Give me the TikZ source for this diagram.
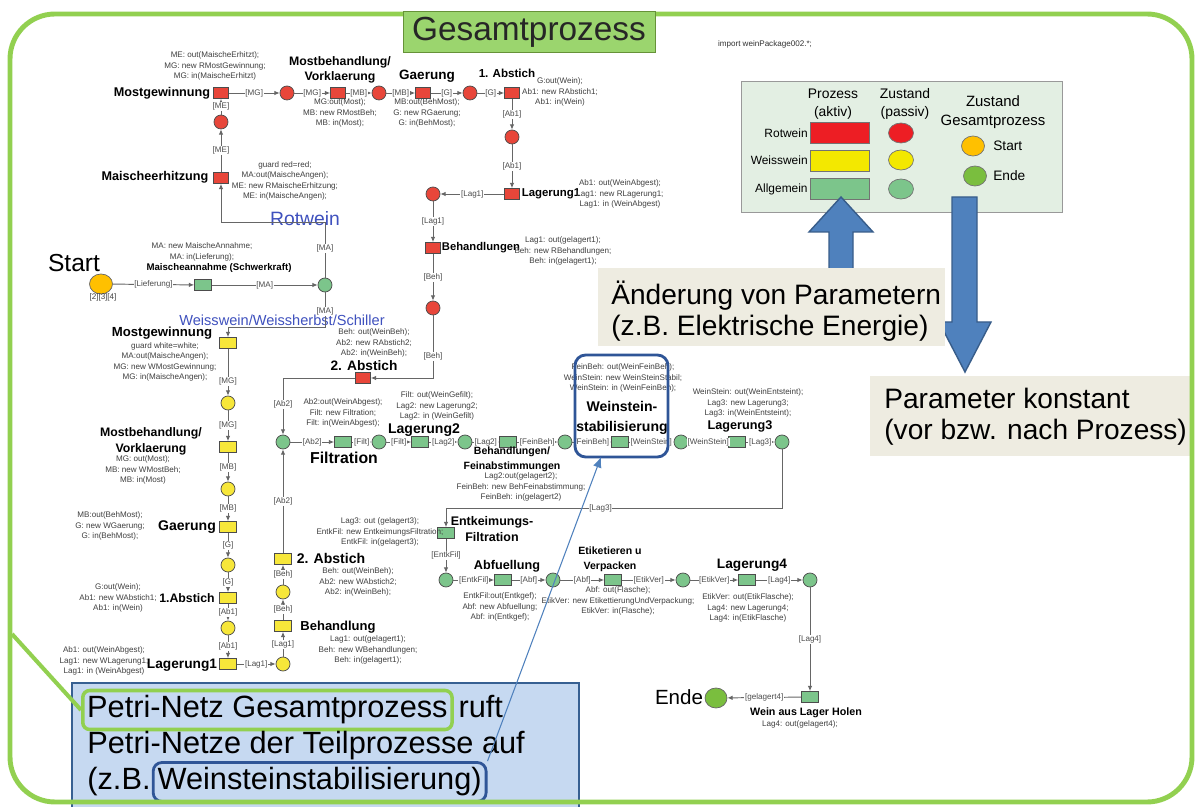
\documentclass[tikz,border=0pt]{standalone}
\usepackage{fontspec}
\setmainfont{Liberation Sans}
\usepackage{tikz}
\usetikzlibrary{arrows.meta,positioning,calc,shapes.geometric}

\definecolor{rotw}{RGB}{232,70,58}
\definecolor{weissw}{RGB}{247,231,58}
\definecolor{allg}{RGB}{124,197,139}
\definecolor{legrot}{RGB}{237,30,36}
\definecolor{leggelb}{RGB}{243,232,0}
\definecolor{startc}{RGB}{255,192,0}
\definecolor{endec}{RGB}{122,190,62}
\definecolor{rahmen}{RGB}{146,208,80}
\definecolor{titelg}{RGB}{155,213,110}
\definecolor{legbg}{RGB}{227,239,227}
\definecolor{infobg}{RGB}{238,236,225}
\definecolor{pfeilb}{RGB}{79,129,189}
\definecolor{pfeilr}{RGB}{56,93,138}
\definecolor{boxbg}{RGB}{198,217,241}
\definecolor{boxrand}{RGB}{55,96,146}
\definecolor{hlblau}{RGB}{47,85,151}
\definecolor{schrift}{RGB}{63,81,190}

\newcommand{\anfont}{\fontsize{4.6}{5.95}\selectfont}
\newcommand{\labfont}[2]{\fontsize{#1}{#2}\selectfont\bfseries}
\newcommand{\pnarc}[3]
{
	\draw[flow] (#1) -- node[lbl]{[#3]} (#2)
}

\begin{document}
\begin{tikzpicture}[x=0.02cm, y=-0.02cm,
			trans/.style={rectangle, draw=black!70, line width=0.4pt,
				minimum width=0.3cm, minimum height=0.22cm, inner sep=0},
			place/.style={circle, draw=black!70, line width=0.4pt,
				minimum size=0.28cm, inner sep=0},
			trR/.style={trans, fill=rotw},
			plR/.style={place, fill=rotw},
			trY/.style={trans, fill=weissw, minimum width=0.34cm},
			plY/.style={place, fill=weissw},
			trG/.style={trans, fill=allg, minimum width=0.34cm},
			plG/.style={place, fill=allg},
			flow/.style={draw=black!60, line width=0.55pt, -{Latex[length=3pt,width=2.6pt]}},
			lbl/.style={fill=white, inner sep=0.4pt, font=\anfont, text=black!70},
			anno/.style={align=center, inner sep=0, font=\anfont, text=black!75},
			tname/.style={align=center, inner sep=0},
			lgt/.style={align=center, inner sep=0, font=\fontsize{7.9}{10.2}\selectfont},
			legbox/.style={draw=black!55, minimum width=1.18cm, minimum height=0.42cm, inner sep=0},
			legell/.style={ellipse, draw=black!55, minimum width=0.5cm, minimum height=0.4cm, inner sep=0},
			infotext/.style={anchor=west, align=left, inner sep=0, font=\fontsize{16}{17.6}\selectfont},
			ctext/.style={inner sep=0, font=\fontsize{17.5}{20}\selectfont, text height=12.6pt, text depth=3.6pt}]
			
			\fill[white] (0,0) rectangle (1198,807);
			\useasboundingbox (0,0) rectangle (1198,807);
			
			% Legende
			\draw[draw=black!40, fill=legbg] (741,81) rectangle (1062,212);
			\node[lgt] at (833,104) (lgP){Prozess\\(aktiv)};
			\node[lgt] at (905,104) (lgZ){Zustand\\(passiv)};
			\node[lgt, font=\fontsize{8.5}{10.8}\selectfont] at (993,112) (lgG){Zustand\\Gesamtprozess};
			\node[anchor=east, inner sep=0, font=\fontsize{6.8}{8}\selectfont] at (808,133) (lgR){Rotwein};
			\node[anchor=east, inner sep=0, font=\fontsize{6.8}{8}\selectfont] at (808,160) (lgW){Weisswein};
			\node[anchor=east, inner sep=0, font=\fontsize{6.8}{8}\selectfont] at (808,189) (lgA){Allgemein};
			\node[legbox, fill=legrot] at (840,133) (lgRb){};
			\node[legbox, fill=leggelb] at (840,161) (lgWb){};
			\node[legbox, fill=allg] at (840,189) (lgAb){};
			\node[legell, fill=legrot] at (901,133) (lgRc){};
			\node[legell, fill=leggelb] at (901,160) (lgWc){};
			\node[legell, fill=allg] at (901,189) (lgAc){};
			\node[legell, fill=startc, minimum width=0.46cm] at (973,146) (lgS){};
			\node[anchor=west, inner sep=0, font=\fontsize{7.8}{8}\selectfont] at (993,146) (lgSt){Start};
			\node[legell, fill=endec, minimum width=0.46cm] at (975,176) (lgE){};
			\node[anchor=west, inner sep=0, font=\fontsize{7.8}{8}\selectfont] at (993,176) (lgEt){Ende};
			
			\node[anno, text=black!80] at (765,44) (imp){import weinPackage002.*;};
			
			% Pfeile und Hinweise
			\draw[fill=pfeilb, draw=pfeilr, line width=0.8pt] (829,270) -- (829,232) -- (809,232) -- (841,197)
				-- (873,232) -- (853,232) -- (853,270) -- cycle;
			\draw[fill=pfeilb, draw=pfeilr, line width=0.8pt] (952,197) -- (977,197) -- (977,322) -- (991,322)
				-- (965,372) -- (939,322) -- (952,322) -- cycle;
			\fill[infobg] (598,268) rectangle (945,346);
			\node[infotext] at (611,311) (chg){Änderung von Parametern\\(z.B. Elektrische Energie)};
			\fill[infobg] (870,376) rectangle (1192,456);
			\node[infotext] at (884,417) (konst){Parameter konstant\\(vor bzw. nach Prozess)};
			
			% Rotwein
			\node[trR] at (221, 93) (MGr){};
			\node[plR] at (287, 93) (PMGr){};
			\node[trR] at (338, 93) (MBr){};
			\node[plR] at (379, 93) (PMBr){};
			\node[trR] at (423, 93) (Gr){};
			\node[plR] at (470, 93) (PGr){};
			\node[trR] at (512, 93) (Ab1r){};
			\node[plR] at (512, 137) (PAb1r){};
			\node[trR] at (512, 194) (Lag1r){};
			\node[plR] at (433, 194) (PLag1r){};
			\node[trR] at (433, 248) (Behr){};
			\node[plR] at (433, 308) (PBehr){};
			\node[trR] at (363, 378) (Ab2r){};
			\node[trR] at (221, 178) (MEr){};
			\node[plR] at (221, 122) (PMEr){};
			
			\node[tname, font=\labfont{7.2}{8.6}] at (162, 93) (nMGr){Mostgewinnung};
			\node[tname, font=\labfont{7.2}{8.6}] at (155, 177) (nMEr){Maischeerhitzung};
			\node[tname, font=\labfont{7}{8.5}] at (340, 70) (nMBr){Mostbehandlung/\\Vorklaerung};
			\node[tname, font=\labfont{7.7}{8.6}] at (427, 76) (nGr){Gaerung};
			\node[tname, font=\labfont{6.6}{8}] at (507, 73) (nAb1r){1. Abstich};
			\node[tname, font=\labfont{6.5}{8}] at (551, 194) (nLag1r){Lagerung1};
			\node[tname, font=\labfont{6.4}{8}] at (481, 248) (nBehr){Behandlungen};
			\node[tname, font=\labfont{7.8}{8.6}] at (364, 366) (nAb2r){2. Abstich};
			
			\node[anno] at (215, 66) (aMGr){ME: out(MaischeErhitzt);\\MG: new RMostGewinnung;\\MG: in(MaischeErhitzt)};
			\node[anno] at (285, 181) (aMEr){guard red=red;\\MA:out(MaischeAngen);\\ME: new RMaischeErhitzung;\\ME: in(MaischeAngen);};
			\node[anno] at (340, 113) (aMBr){MG:out(Most);\\MB: new RMostBeh;\\MB: in(Most);};
			\node[anno] at (427, 113) (aGr){MB:out(BehMost);\\G: new RGaerung;\\G: in(BehMost);};
			\node[anno] at (560, 92) (aAb1r){G:out(Wein);\\Ab1: new RAbstich1;\\Ab1: in(Wein)};
			\node[anno] at (620, 194) (aLag1r){Ab1: out(WeinAbgest);\\Lag1: new RLagerung1;\\Lag1: in (WeinAbgest)};
			\node[anno] at (563, 251) (aBehr){Lag1: out(gelagert1);\\Beh: new RBehandlungen;\\Beh: in(gelagert1);};
			\node[anno] at (374, 343) (aAb2r){Beh: out(WeinBeh);\\Ab2: new RAbstich2;\\Ab2: in(WeinBeh);};
			
			\pnarc{MEr}{PMEr}{ME};
			\pnarc{PMEr}{MGr}{ME};
			\pnarc{MGr}{PMGr}{MG};
			\pnarc{PMGr}{MBr}{MG};
			\pnarc{MBr}{PMBr}{MB};
			\pnarc{PMBr}{Gr}{MB};
			\pnarc{Gr}{PGr}{G};
			\pnarc{PGr}{Ab1r}{G};
			\pnarc{Ab1r}{PAb1r}{Ab1};
			\pnarc{PAb1r}{Lag1r}{Ab1};
			\pnarc{Lag1r}{PLag1r}{Lag1};
			\pnarc{PLag1r}{Behr}{Lag1};
			\pnarc{Behr}{PBehr}{Beh};
			\draw[flow] (PBehr) |- node[lbl, pos=0.33]{[Beh]} (Ab2r);
			
			% Annahme
			\node[ellipse, draw=black!60, fill=startc, minimum width=0.46cm, minimum height=0.4cm, inner sep=0] at (101, 284) (St){};
			\node[inner sep=0, font=\fontsize{14}{14}\selectfont] at (74, 263) (StL){Start};
			\node[anno] at (103, 297) (StM){[2][3][4]};
			\node[trG] at (203, 285) (MA){};
			\node[plG] at (325, 285) (PMA){};
			\node[tname, font=\labfont{5.5}{6.5}] at (219, 268) (nMA){Maischeannahme (Schwerkraft)};
			\node[anno] at (202, 252) (aMA){MA: new MaischeAnnahme;\\MA: in(Lieferung);};
			\node[inner sep=0, text=schrift, font=\fontsize{11}{11}\selectfont] at (305, 219) (Rot){Rotwein};
			\node[inner sep=0, text=schrift, font=\fontsize{8.3}{8.3}\selectfont] at (282, 320) (Wei){Weisswein/Weissherbst/Schiller};
			\coordinate (cRot) at (221, 222);
			\coordinate (cWei) at (228, 327);
			
			% Weisswein
			\node[trY] at (228, 343) (MGw){};
			\node[plY] at (228, 403) (PMGw){};
			\node[trY] at (228, 447) (MBw){};
			\node[plY] at (228, 489) (PMBw){};
			\node[trY] at (228, 527) (Gw){};
			\node[plY] at (228, 565) (PGw){};
			\node[trY] at (228, 598) (Ab1w){};
			\node[plY] at (228, 628) (PAb1w){};
			\node[trY] at (228, 664) (Lag1w){};
			\node[plY] at (283, 664) (PLag1w){};
			\node[trY] at (283, 626) (Behw){};
			\node[plY] at (283, 592) (PBehw){};
			\node[trY] at (283, 559) (Ab2w){};
			
			\node[tname, font=\labfont{7.5}{8.6}] at (162, 333) (nMGw){Mostgewinnung};
			\node[tname, font=\labfont{7}{9}] at (151, 441) (nMBw){Mostbehandlung/\\Vorklaerung};
			\node[tname, font=\labfont{8}{9}] at (187, 527) (nGw){Gaerung};
			\node[tname, font=\labfont{7}{8}] at (187, 598) (nAb1w){1.Abstich};
			\node[tname, font=\labfont{7.8}{9}] at (182, 665) (nLag1w){Lagerung1};
			\node[tname, font=\labfont{7.4}{9}] at (338, 627) (nBehw){Behandlung};
			\node[tname, font=\labfont{8}{9}] at (331, 558) (nAb2w){2. Abstich};
			
			\node[anno] at (165, 362) (aMGw){guard white=white;\\MA:out(MaischeAngen);\\MG: new WMostGewinnung;\\MG: in(MaischeAngen);};
			\node[anno] at (143, 470) (aMBw){MG: out(Most);\\MB: new WMostBeh;\\MB: in(Most)};
			\node[anno] at (110, 526) (aGw){MB:out(BehMost);\\G: new WGaerung;\\G: in(BehMost);};
			\node[anno] at (118, 598) (aAb1w){G:out(Wein);\\Ab1: new WAbstich1;\\Ab1: in(Wein)};
			\node[anno] at (104, 661) (aLag1w){Ab1: out(WeinAbgest);\\Lag1: new WLagerung1;\\Lag1: in (WeinAbgest)};
			\node[anno] at (368, 650) (aBehw){Lag1: out(gelagert1);\\Beh: new WBehandlungen;\\Beh: in(gelagert1);};
			\node[anno] at (358, 582) (aAb2w){Beh: out(WeinBeh);\\Ab2: new WAbstich2;\\Ab2: in(WeinBeh);};
			
			\pnarc{St}{MA}{Lieferung};
			\pnarc{MA}{PMA}{MA};
			\draw[flow] (PMA) |- node[lbl, pos=0.26]{[MA]} (cRot) -- (MEr);
			\draw[flow] (PMA) |- node[lbl, pos=0.27]{[MA]} (cWei) -- (MGw);
			
			\draw[flow] (MGw) -- node[lbl, pos=0.7]{[MG]} (PMGw);
			\pnarc{PMGw}{MBw}{MG};
			\pnarc{MBw}{PMBw}{MB};
			\pnarc{PMBw}{Gw}{MB};
			\pnarc{Gw}{PGw}{G};
			\pnarc{PGw}{Ab1w}{G};
			\pnarc{Ab1w}{PAb1w}{Ab1};
			\pnarc{PAb1w}{Lag1w}{Ab1};
			\pnarc{Lag1w}{PLag1w}{Lag1};
			\pnarc{PLag1w}{Behw}{Lag1};
			\pnarc{Behw}{PBehw}{Beh};
			\pnarc{PBehw}{Ab2w}{Beh};
			
			% Allgemein
			\node[plG] at (283, 442) (PAb2){};
			\node[trG] at (343, 442) (Filt){};
			\node[plG] at (379, 442) (PFilt){};
			\node[trG] at (420, 442) (Lag2){};
			\node[plG] at (465, 442) (PLag2){};
			\node[trG] at (508, 442) (Fein){};
			\node[plG] at (565, 442) (PFein){};
			\node[trG] at (620, 442) (Wst){};
			\node[plG] at (681, 442) (PWst){};
			\node[trG] at (737, 442) (Lag3){};
			\node[plG] at (782, 442) (PLag3){};
			\coordinate (cLag3) at (446, 508);
			\node[trG] at (446, 533) (Entk){};
			\node[plG] at (446, 580) (PEntk){};
			\node[trG] at (503, 580) (Abf){};
			\node[plG] at (553, 580) (PAbf){};
			\node[trG] at (613, 580) (Etik){};
			\node[plG] at (683, 580) (PEtik){};
			\node[trG] at (747, 580) (Lag4){};
			\node[plG] at (810, 580) (PLag4){};
			\node[trG] at (810, 697) (Hol){};
			\node[ellipse, draw=black!60, fill=endec, minimum width=0.44cm, minimum height=0.4cm, inner sep=0] at (716, 698) (Ende){};
			\node[inner sep=0, font=\fontsize{11.7}{12}\selectfont] at (679, 697) (EndeL){Ende};
			
			\node[tname, font=\labfont{9}{10}] at (344, 458) (nFilt){Filtration};
			\node[tname, font=\labfont{8}{9}] at (424, 430) (nLag2){Lagerung2};
			\node[tname, font=\labfont{6}{8.5}] at (512, 459) (nFein){Behandlungen/\\Feinabstimmungen};
			\node[tname, font=\labfont{8}{11.3}] at (622, 418) (nWst){Weinstein-\\stabilisierung};
			\node[tname, font=\labfont{7.2}{8.5}] at (740, 426) (nLag3){Lagerung3};
			\node[tname, font=\labfont{7.1}{9}] at (492, 529) (nEntk){Entkeimungs-\\Filtration};
			\node[tname, font=\labfont{7.2}{8.5}] at (507, 566) (nAbf){Abfuellung};
			\node[tname, font=\labfont{6}{8.5}] at (610, 559) (nEtik){Etiketieren u\\Verpacken};
			\node[tname, font=\labfont{7.8}{9}] at (752, 565) (nLag4){Lagerung4};
			\node[tname, font=\labfont{6.1}{7}] at (806, 713) (nHol){Wein aus Lager Holen};
			
			\node[anno] at (343, 413) (aFilt){Ab2:out(WeinAbgest);\\Filt: new Filtration;\\Filt: in(WeinAbgest);};
			\node[anno] at (437, 406) (aLag2){Filt: out(WeinGefilt);\\Lag2: new Lagerung2;\\Lag2: in (WeinGefilt)};
			\node[anno] at (521, 487) (aFein){Lag2:out(gelagert2);\\FeinBeh: new BehFeinabstimmung;\\FeinBeh: in(gelagert2)};
			\node[anno] at (623, 378) (aWst){FeinBeh: out(WeinFeinBeh);\\WeinStein: new WeinSteinStabil;\\WeinStein: in (WeinFeinBeh);};
			\node[anno] at (748, 403) (aLag3){WeinStein: out(WeinEntsteint);\\Lag3: new Lagerung3;\\Lag3: in(WeinEntsteint);};
			\node[anno] at (380, 532) (aEntk){Lag3: out (gelagert3);\\EntkFil: new EntkeimungsFiltration;\\EntkFil: in(gelagert3);};
			\node[anno] at (500, 607) (aAbf){EntkFil:out(Entkgef);\\Abf: new Abfuellung;\\Abf: in(Entkgef);};
			\node[anno] at (618, 601) (aEtik){Abf: out(Flasche);\\EtikVer: new EtikettierungUndVerpackung;\\EtikVer: in(Flasche);};
			\node[anno] at (748, 608) (aLag4){EtikVer: out(EtikFlasche);\\Lag4: new Lagerung4;\\Lag4: in(EtikFlasche)};
			\node[anno] at (800, 724) (aHol){Lag4: out(gelagert4);};
			
			\draw[flow] (Ab2r) -| node[lbl, pos=0.73]{[Ab2]} (PAb2);
			\pnarc{Ab2w}{PAb2}{Ab2};
			\pnarc{PAb2}{Filt}{Ab2};
			\pnarc{Filt}{PFilt}{Filt};
			\pnarc{PFilt}{Lag2}{Filt};
			\pnarc{Lag2}{PLag2}{Lag2};
			\pnarc{PLag2}{Fein}{Lag2};
			\pnarc{Fein}{PFein}{FeinBeh};
			\pnarc{PFein}{Wst}{FeinBeh};
			\pnarc{Wst}{PWst}{WeinStein};
			\pnarc{PWst}{Lag3}{WeinStein};
			\pnarc{Lag3}{PLag3}{Lag3};
			\draw[flow] (PLag3) |- node[lbl, pos=0.77]{[Lag3]} (cLag3) -- (Entk);
			\pnarc{Entk}{PEntk}{EntkFil};
			\pnarc{PEntk}{Abf}{EntkFil};
			\pnarc{Abf}{PAbf}{Abf};
			\pnarc{PAbf}{Etik}{Abf};
			\pnarc{Etik}{PEtik}{EtikVer};
			\pnarc{PEtik}{Lag4}{EtikVer};
			\pnarc{Lag4}{PLag4}{Lag4};
			\pnarc{PLag4}{Hol}{Lag4};
			\pnarc{Hol}{Ende}{gelagert4};
			
			\node[draw=hlblau, line width=1.6pt, rounded corners=6pt, minimum width=1.86cm, minimum height=2.04cm, inner sep=0] at (621.5, 406) (WSH){};
			
			% Erklaerung
			\draw[fill=boxbg, draw=boxrand, line width=1.7pt] (72,683) rectangle (579,815);
			\node[ctext, draw=rahmen, line width=2pt, rounded corners=4pt, inner xsep=2.5pt, inner ysep=3pt, anchor=west] at (81,710) (PN){Petri-Netz Gesamtprozess};
			\node[ctext, right=2.5pt of PN] (ruft){ruft};
			\node[ctext, anchor=west] at (87,746) (PN2){Petri-Netze der Teilprozesse auf};
			\node[ctext, anchor=west] at (87,782) (zb){(z.B.};
			\node[ctext, draw=hlblau, line width=1.6pt, rounded corners=5pt, inner xsep=2.5pt, inner ysep=3pt, right=0.5pt of zb] (WS){Weinsteinstabilisierung)};
			
			\draw[rahmen, line width=2.8pt, rounded corners=0.9cm] (10,14) rectangle (1192,802);
			\node[draw=rahmen!70!black, fill=titelg, minimum width=5.04cm, minimum height=0.82cm, inner sep=0,
				font=\fontsize{19}{19}\selectfont, text=black!85] at (529, 32) (T){Gesamtprozess};
			
			\coordinate (frL) at (12, 634);
			\coordinate (wsTip) at (601, 457);
			\draw[rahmen, line width=2.3pt] (PN.west) -- (frL);
			\draw[pfeilb, line width=0.6pt, -{Latex[length=6pt,width=5pt]}] (WS.north east) -- (wsTip);
		\end{tikzpicture}
\end{document}
